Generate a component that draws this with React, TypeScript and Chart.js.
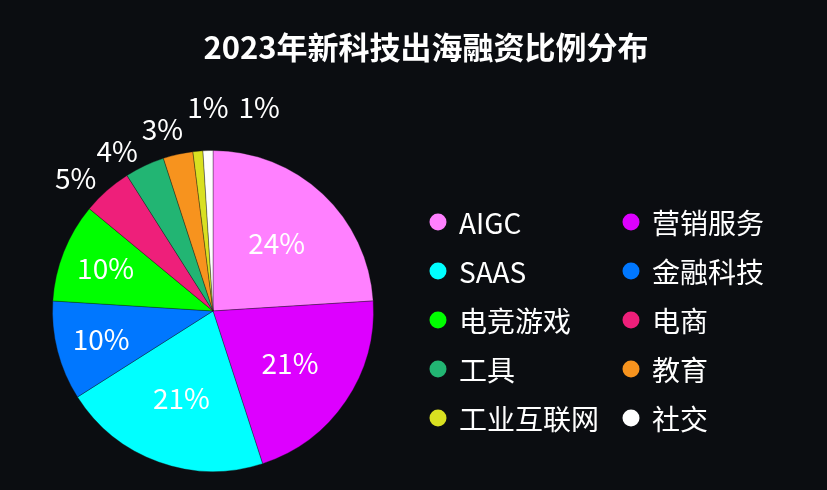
import React, { useEffect, useRef } from 'react';
import { Chart, registerables } from 'chart.js';

Chart.register(...registerables);

const TITLE = '2023年新科技出海融资比例分布';
const categories = ['AIGC', '营销服务', 'SAAS', '金融科技', '电竞游戏', '电商', '工具', '教育', '工业互联网', '社交'];
const shares = [24, 21, 21, 10, 10, 5, 4, 3, 1, 1];
const colors = ['#ff80ff', '#dd00ff', '#00ffff', '#0077ff', '#00ff00', '#ee1f7a', '#22b573', '#f7931e', '#d9e021', '#ffffff'];

const FONT = '"Noto Sans CJK SC", "Noto Sans", sans-serif';
const BG = '#0b0d11';

const overlayPlugin = {
  id: 'overlay',
  beforeDraw(chart: any) {
    const { ctx, width, height } = chart;
    ctx.save();
    ctx.fillStyle = BG;
    ctx.fillRect(0, 0, width, height);
    ctx.restore();
  },
  afterDatasetsDraw(chart: any) {
    const ctx = chart.ctx;
    const meta = chart.getDatasetMeta(0);
    const area = chart.chartArea;
    ctx.save();

    // title
    ctx.fillStyle = '#ffffff';
    ctx.font = `bold 31px ${FONT}`;
    ctx.textAlign = 'center';
    ctx.textBaseline = 'middle';
    ctx.fillText(TITLE, 426, 47);

    // slice labels
    ctx.font = `28px ${FONT}`;
    const placed: { x: number; y: number; w: number }[] = [];
    const H = 21;
    meta.data.forEach((arc: any, i: number) => {
      const p = arc.getProps(['x', 'y', 'startAngle', 'endAngle', 'outerRadius'], true);
      const mid = (p.startAngle + p.endAngle) / 2;
      const v = shares[i];
      const text = `${v}%`;
      const w = ctx.measureText(text).width;
      ctx.textAlign = 'center';
      if (v >= 8) {
        const r = p.outerRadius * (v >= 15 ? 0.58 : 0.72);
        ctx.fillText(text, p.x + Math.cos(mid) * r, p.y + Math.sin(mid) * r);
      } else {
        const r = p.outerRadius * 1.1;
        const ax = p.x + Math.cos(mid) * r;
        let cy = p.y + Math.sin(mid) * r;
        let cx = ax - w / 2;
        const hits = (x: number, y: number) =>
          placed.find((b) => Math.abs(y - b.y) < H && Math.abs(x - b.x) < (w + b.w) / 2 + 6);
        const b = hits(cx, cy);
        if (b) {
          cy = b.y - H - 1;
          cx = Math.max(cx, b.x + (w + b.w) / 2 + 4);
          let b2 = hits(cx, cy);
          while (b2) {
            cx = b2.x + (w + b2.w) / 2 + 10;
            b2 = hits(cx, cy);
          }
        }
        placed.push({ x: cx, y: cy, w });
        ctx.fillText(text, cx, cy);
      }
    });

    // legend (two columns, row-major)
    const colX = [area.right + 64, area.right + 257];
    const rowY0 = 222;
    const rowStep = 49;
    ctx.font = `28px ${FONT}`;
    ctx.textAlign = 'left';
    categories.forEach((name, i) => {
      const col = i % 2;
      const row = Math.floor(i / 2);
      const x = colX[col];
      const y = rowY0 + row * rowStep;
      ctx.beginPath();
      ctx.arc(x, y, 8.5, 0, Math.PI * 2);
      ctx.fillStyle = colors[i];
      ctx.fill();
      ctx.fillStyle = '#ffffff';
      ctx.fillText(name, x + 21, y + 1);
    });

    ctx.restore();
  },
};

export default function App() {
  const ref = useRef<HTMLCanvasElement | null>(null);
  useEffect(() => {
    document.body.style.margin = '0';
    const canvas = ref.current;
    if (!canvas) return;
    const chart = new Chart(canvas, {
      type: 'pie',
      data: {
        labels: categories,
        datasets: [
          {
            data: shares,
            backgroundColor: colors,
            borderColor: 'rgba(20,20,20,0.35)',
            borderWidth: 1,
          },
        ],
      },
      options: {
        responsive: false,
        animation: false,
        layout: { padding: { left: 52, right: 453, top: 150, bottom: 18 } },
        plugins: {
          legend: { display: false },
          tooltip: { enabled: false },
          title: { display: false },
        },
      },
      plugins: [overlayPlugin],
    });
    return () => chart.destroy();
  }, []);
  return (
    <div style={{ position: 'fixed', left: 0, top: 0, width: 827, height: 490, background: BG }}>
      <canvas ref={ref} width={827} height={490} style={{ display: 'block' }} />
    </div>
  );
}
